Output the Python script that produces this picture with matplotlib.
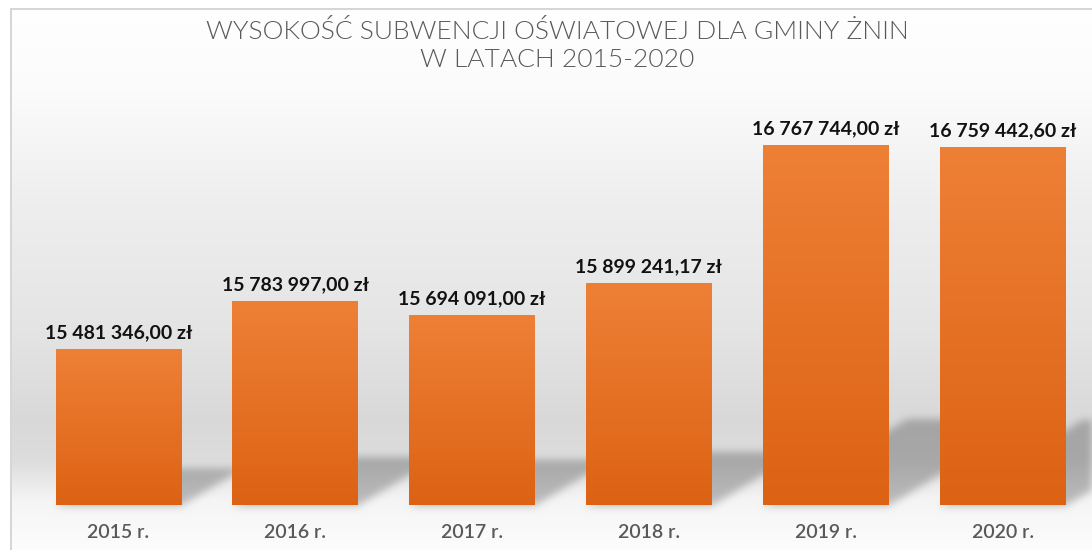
import numpy as np
import matplotlib
matplotlib.use("Agg")
import matplotlib.pyplot as plt

plt.rcParams["font.family"] = ["Lato", "DejaVu Sans"]

years = ["2015 r.", "2016 r.", "2017 r.", "2018 r.", "2019 r.", "2020 r."]
amounts = [15481346.00, 15783997.00, 15694091.00, 15899241.17, 16767744.00, 16759442.60]

title = "WYSOKOŚĆ SUBWENCJI OŚWIATOWEJ DLA GMINY ŻNIN\nW LATACH 2015-2020"
y_min, y_max = 14500000, 17000000

W, H = 1092, 550


def fmt_pln(v):
    whole, frac = ("%.2f" % v).split(".")
    groups = []
    while whole:
        groups.insert(0, whole[-3:])
        whole = whole[:-3]
    return " ".join(groups) + "," + frac + " zł"


def blur(a, sigma):
    r = int(3 * sigma)
    k = np.exp(-0.5 * (np.arange(-r, r + 1) / sigma) ** 2)
    k /= k.sum()
    a = np.apply_along_axis(lambda m: np.convolve(m, k, mode="same"), 0, a)
    a = np.apply_along_axis(lambda m: np.convolve(m, k, mode="same"), 1, a)
    return a


fig = plt.figure(figsize=(W / 100, H / 100), dpi=100)
bg = fig.add_axes([0, 0, 1, 1], zorder=0)
ax = fig.add_axes([30 / W, 45 / H, 1061 / W, 396 / H], zorder=1)
ax.patch.set_alpha(0)

x = np.arange(len(years))
bars = ax.bar(x, [a - y_min for a in amounts], width=0.71, bottom=y_min,
              color="none", edgecolor="none")
ax.set_xlim(-0.5, len(years) - 0.5)
ax.set_ylim(y_min, y_max)
for s in ax.spines.values():
    s.set_visible(False)
ax.set_yticks([])
ax.set_xticks(x)
ax.set_xticklabels(years, fontsize=14, color="#595959", fontweight=600)
ax.tick_params(axis="x", length=0, pad=14)

# orange gradient inside each bar
grad = np.linspace(0, 1, 256)[:, None]
top_c = np.array([0.933, 0.502, 0.212])
bot_c = np.array([0.863, 0.384, 0.078])
grad_img = (top_c * (1 - grad[..., None]) + bot_c * grad[..., None])
for b in bars:
    x0, y0 = b.get_x(), b.get_y()
    ax.imshow(grad_img, extent=(x0, x0 + b.get_width(), y0, y0 + b.get_height()),
              aspect="auto", zorder=2, interpolation="bilinear")
ax.set_xlim(-0.5, len(years) - 0.5)
ax.set_ylim(y_min, y_max)

for xi, a in zip(x, amounts):
    ax.annotate(fmt_pln(a), (xi, a), xytext=(0, 6), textcoords="offset points",
                ha="center", va="bottom", fontsize=14, fontweight="bold",
                color="#111111", zorder=3)

# background: grey gradient wall, frame lines and soft bar shadows
stops_y = [0, 90, 200, 330, 420, 460, 500, 550]
stops_v = [1.0, 0.985, 0.935, 0.895, 0.85, 0.865, 0.96, 0.99]
col = np.interp(np.arange(H), stops_y, stops_v)
img = np.repeat(col[:, None], W, axis=1)

fig.canvas.draw()
rows, cols = np.mgrid[0:H, 0:W]
mask = np.zeros((H, W))
slope = 0.6
for b in bars:
    (xl, yb), (xr, yt) = ax.transData.transform(
        [(b.get_x(), b.get_y()), (b.get_x() + b.get_width(), b.get_y() + b.get_height())])
    base, top = H - yb, H - yt
    depth = 0.24 * (base - top)
    t = base - rows
    inside = (t >= 0) & (t <= depth) & (cols >= xl + t / slope) & (cols <= xr + t / slope)
    mask[inside] = 1.0
mask = blur(mask, 4)
img = img * (1 - 0.24 * mask)

img[:8, :] = 1.0
img[:, :10] = 1.0
img[8:10, 10:] = 0.84
img[8:, 10:12] = 0.84

bg.imshow(np.dstack([img] * 3), extent=(0, W, H, 0), aspect="auto",
          interpolation="bilinear")
bg.set_xlim(0, W)
bg.set_ylim(H, 0)
bg.axis("off")

fig.text(557 / W, 1 - 46 / H, title, ha="center", va="center", fontsize=19,
         fontweight=300, color="#595959", linespacing=1.2)

fig.savefig("out.png", dpi=100)
